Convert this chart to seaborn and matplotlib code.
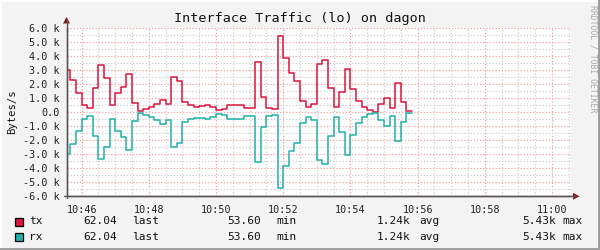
import matplotlib
matplotlib.use("Agg")
import matplotlib.pyplot as plt
from matplotlib.lines import Line2D
from matplotlib.patches import Rectangle
import matplotlib.ticker as mticker
import numpy as np
import pandas as pd
import seaborn as sns

# ---------------- data ----------------
series_names = ["tx", "rx"]
series_colors = ["#DC143C", "#20B2AA"]
step_seconds = 10
data_start = "10:45:30"
view_start = "10:45:33"
view_end = "11:00:33"

tx_values = [3000, 2290, 1360, 500, 290, 1710, 3360, 2450, 500, 1360,
             1790, 2710, 640, 70, 210, 360, 570, 860, 570, 2500,
             2210, 710, 500, 380, 430, 500, 360, 140, 210, 500,
             500, 500, 290, 290, 3570, 1070, 290, 210, 5430, 3860,
             2790, 2210, 790, 360, 570, 3430, 3710, 1710, 360, 1430,
             3070, 1640, 790, 360, 140, 54, 570, 1000, 290, 2070,
             710, 62]
rx_values = [-3000, -2290, -1360, -500, -290, -1710, -3360, -2450, -500, -1360,
             -1790, -2710, -640, -70, -210, -360, -570, -860, -570, -2500,
             -2210, -710, -500, -380, -430, -500, -360, -140, -210, -500,
             -500, -500, -290, -290, -3570, -1070, -290, -210, -5430, -3860,
             -2790, -2210, -790, -360, -570, -3430, -3710, -1710, -360, -1430,
             -3070, -1640, -790, -360, -140, -54, -570, -1000, -290, -2070,
             -710, -62]

x_tick_labels = ["10:46", "10:48", "10:50", "10:52", "10:54", "10:56", "10:58", "11:00"]
y_tick_values = [-6000, -5000, -4000, -3000, -2000, -1000, 0, 1000, 2000, 3000, 4000, 5000, 6000]
y_tick_labels = ["-6.0 k", "-5.0 k", "-4.0 k", "-3.0 k", "-2.0 k", "-1.0 k", "0.0",
                 "1.0 k", "2.0 k", "3.0 k", "4.0 k", "5.0 k", "6.0 k"]

title = "Interface Traffic (lo) on dagon"
y_label = "Bytes/s"
side_text = "RRDTOOL / TOBI OETIKER"
legend_stats = [
    ("tx", "62.04", "53.60", "1.24k", "5.43k"),
    ("rx", "62.04", "53.60", "1.24k", "5.43k"),
]


def hms(s):
    parts = [int(p) for p in s.split(":")]
    if len(parts) == 2:
        parts.append(0)
    return parts[0] * 3600 + parts[1] * 60 + parts[2]


# ---------------- build frame ----------------
t0 = hms(data_start)
rows = []
for name, vals in zip(series_names, [tx_values, rx_values]):
    ext = list(vals) + [vals[-1]]
    for i, v in enumerate(ext):
        rows.append({"t": t0 + i * step_seconds, "v": v, "series": name})
df = pd.DataFrame(rows)

# ---------------- figure ----------------
sns.set_theme(style="white")
plt.rcParams["font.family"] = ["DejaVu Sans Mono"]
W, H = 600, 250
fig = plt.figure(figsize=(6, 2.5), dpi=100, facecolor="#F3F3F3")

# frame shading
fig.add_artist(Line2D([0, 1], [1 - 0.5 / H, 1 - 0.5 / H], transform=fig.transFigure, color="white", lw=1.5))
fig.add_artist(Line2D([0.5 / W, 0.5 / W], [0, 1], transform=fig.transFigure, color="white", lw=1.5))
fig.add_artist(Line2D([0, 1], [1.0 / H, 1.0 / H], transform=fig.transFigure, color="#9A9A9A", lw=2))
fig.add_artist(Line2D([1 - 1.0 / W, 1 - 1.0 / W], [0, 1], transform=fig.transFigure, color="#9A9A9A", lw=2))

ax_l, ax_r = 66.5, 570.5
ax_t, ax_b = 28.3, 196.3
ax = fig.add_axes([ax_l / W, 1 - ax_b / H, (ax_r - ax_l) / W, (ax_b - ax_t) / H])
ax.set_facecolor("white")

sns.lineplot(data=df, x="t", y="v", hue="series", palette=dict(zip(series_names, series_colors)),
             drawstyle="steps-post", estimator=None, legend=False, linewidth=1.1, ax=ax, zorder=5)

ax.set_xlim(hms(view_start), hms(view_end))
ax.set_ylim(-6000, 6000)

ax.set_xticks([hms(s) for s in x_tick_labels])
ax.set_xticklabels(x_tick_labels)
ax.xaxis.set_minor_locator(mticker.MultipleLocator(30))
ax.set_yticks(y_tick_values)
ax.set_yticklabels(y_tick_labels)
ax.yaxis.set_minor_locator(mticker.MultipleLocator(500))

ax.grid(which="minor", color="#CFCFCF", linestyle=(0, (1, 1.5)), linewidth=0.9)
ax.grid(which="major", color="#F2A0A0", linestyle=(0, (1, 1.5)), linewidth=0.9)
ax.set_axisbelow(True)

for sp in ["top", "right"]:
    ax.spines[sp].set_visible(False)
for sp in ["left", "bottom"]:
    ax.spines[sp].set_color("#555555")
    ax.spines[sp].set_linewidth(1.0)

ax.tick_params(axis="both", which="major", direction="out", length=3, width=0.8,
               color="#555555", labelsize=7.3, pad=2, labelcolor="#222222")
ax.tick_params(axis="x", which="major", pad=3)
ax.tick_params(axis="both", which="minor", direction="out", length=1.5, width=0.6, color="#777777")
ax.set_xlabel("")
ax.set_ylabel("")

# axis extensions with arrows
fig.add_artist(Line2D([ax_l / W, ax_l / W], [1 - 198 / H, 1 - 20 / H], transform=fig.transFigure,
                      color="#555555", lw=1.0))
fig.add_artist(Line2D([64 / W, 575 / W], [1 - ax_b / H, 1 - ax_b / H], transform=fig.transFigure,
                      color="#555555", lw=1.0))
fig.patches.append(matplotlib.patches.Polygon(
    [[(ax_l - 3.5) / W, 1 - 23.5 / H], [(ax_l + 3.5) / W, 1 - 23.5 / H], [ax_l / W, 1 - 17 / H]],
    closed=True, transform=fig.transFigure, facecolor="#8B1A1A", edgecolor="none", figure=fig))
fig.patches.append(matplotlib.patches.Polygon(
    [[573 / W, 1 - (ax_b - 3.5) / H], [573 / W, 1 - (ax_b + 3.5) / H], [579.5 / W, 1 - ax_b / H]],
    closed=True, transform=fig.transFigure, facecolor="#8B1A1A", edgecolor="none", figure=fig))

# texts
fig.text(300 / W, 1 - 18.5 / H, title, ha="center", va="center", fontsize=9.7, color="#111111")
fig.text(12 / W, 1 - 112 / H, y_label, ha="center", va="center", rotation=90, fontsize=7.6, color="#111111")
fig.text(593 / W, 1 - 5 / H, side_text, ha="center", va="top", rotation=270, fontsize=5.9, color="#AAAAAA")

# legend rows
row_y = [221.5, 236.5]
for (name, last, mn, avg, mx), col, y in zip(legend_stats, series_colors, row_y):
    fig.patches.append(Rectangle((15 / W, 1 - (y + 4.5) / H), 8 / W, 8.5 / H, transform=fig.transFigure,
                                 facecolor=col, edgecolor="black", linewidth=0.9, figure=fig))
    for txt, xp in [(name, 29), (last, 83), ("last", 132), (mn, 227), ("min", 276),
                    (avg, 377), ("avg", 419), (mx, 522), ("max", 562)]:
        fig.text(xp / W, 1 - y / H, txt, ha="left", va="center", fontsize=8.0, color="#111111")

fig.savefig("out.png", dpi=100, facecolor=fig.get_facecolor())
